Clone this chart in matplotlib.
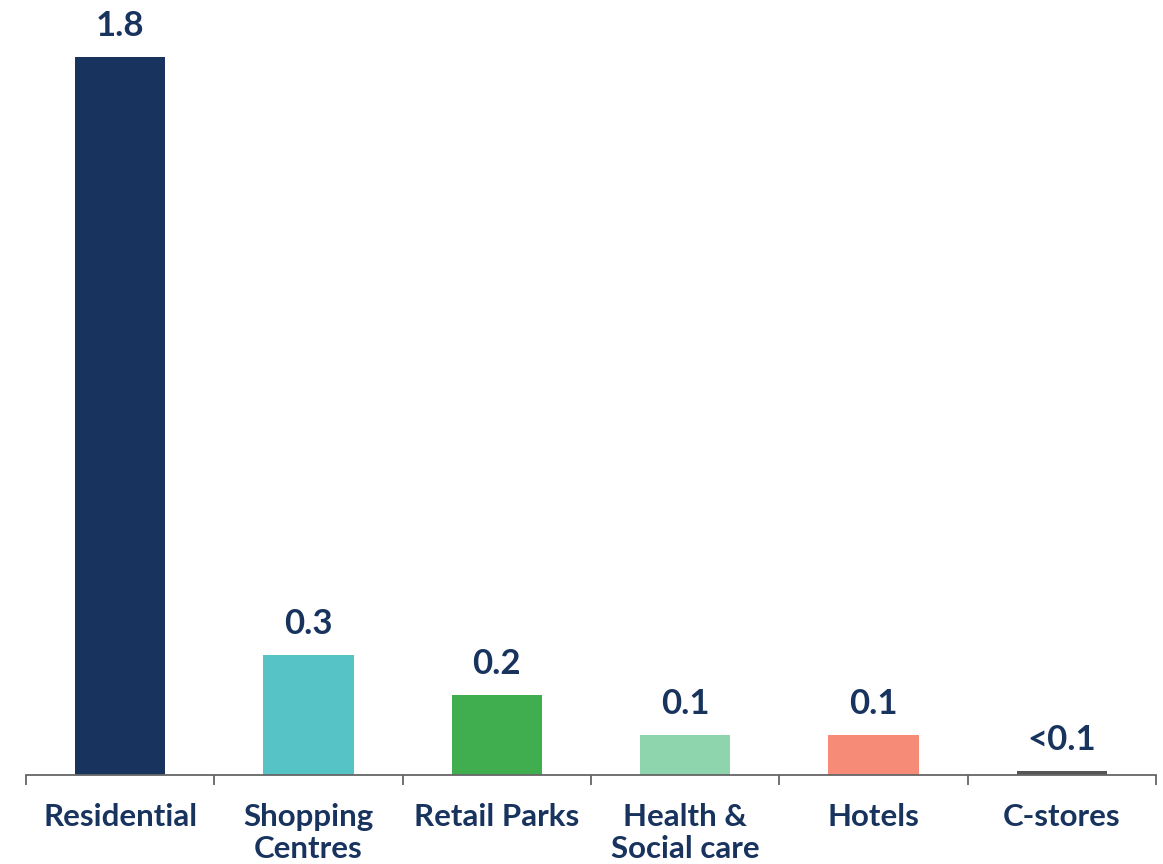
import matplotlib.pyplot as plt

categories = ['Residential', 'Shopping\nCentres', 'Retail Parks', 'Health &\nSocial care', 'Hotels', 'C-stores']
values = [1.8, 0.3, 0.2, 0.1, 0.1, 0.01]
value_labels = ['1.8', '0.3', '0.2', '0.1', '0.1', '<0.1']
colors = ['#17335e', '#56c3c7', '#40ae4f', '#8ed5ad', '#f68c77', '#555555']

text_color = '#17335e'
plt.rcParams['font.family'] = ['Lato', 'DejaVu Sans']

fig = plt.figure(figsize=(11.63, 8.64), dpi=100)
ax = fig.add_axes([26 / 1163, 89 / 864, 1130 / 1163, 765 / 864])

x = list(range(len(categories)))
ax.bar(x, values, width=0.48, color=colors)

for xi, v, lab in zip(x, values, value_labels):
    ax.annotate(lab, (xi, v), xytext=(0, 11), textcoords='offset points',
                ha='center', va='bottom', fontsize=25, fontweight='bold',
                color=text_color)

ax.set_xlim(-0.5, 5.5)
ax.set_ylim(0, 1.8 * 765 / 718)

for side in ['left', 'right', 'top']:
    ax.spines[side].set_visible(False)
ax.spines['bottom'].set_color('#666666')
ax.spines['bottom'].set_linewidth(1.3)
ax.set_yticks([])

ax.set_xticks(x)
ax.set_xticklabels(categories, fontsize=22.5, fontweight='bold', color=text_color,
                   linespacing=1.2)
ax.tick_params(axis='x', which='major', length=0, pad=20)
ax.set_xticks([i - 0.5 for i in range(len(categories) + 1)], minor=True)
ax.tick_params(axis='x', which='minor', length=7, width=1.3, color='#666666')

fig.savefig('out.png', dpi=100)
